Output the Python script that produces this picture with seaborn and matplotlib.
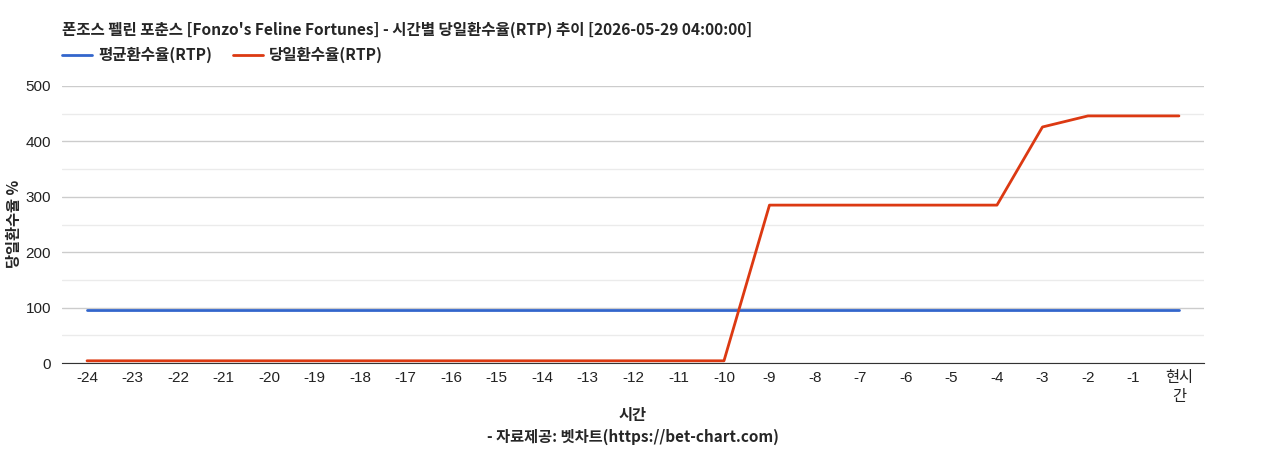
import numpy as np
import pandas as pd
import seaborn as sns
import matplotlib.pyplot as plt
from matplotlib.ticker import MultipleLocator

# chart data
hours = ['-24', '-23', '-22', '-21', '-20', '-19', '-18', '-17', '-16', '-15', '-14', '-13',
         '-12', '-11', '-10', '-9', '-8', '-7', '-6', '-5', '-4', '-3', '-2', '-1', '현시\n간']
avg_rtp = [96] * 25
daily_rtp = [4, 4, 4, 4, 4, 4, 4, 4, 4, 4, 4, 4, 4, 4, 4,
             285, 285, 285, 285, 285, 285, 426, 446, 446, 446]

title = "폰조스 펠린 포춘스 [Fonzo's Feline Fortunes] - 시간별 당일환수율(RTP) 추이 [2026-05-29 04:00:00]"
series_names = ['평균환수율(RTP)', '당일환수율(RTP)']
colors = ['#3366cc', '#dc3912']

df = pd.DataFrame({
    'x': list(range(len(hours))) * 2,
    'rtp': avg_rtp + daily_rtp,
    'series': [series_names[0]] * len(hours) + [series_names[1]] * len(hours),
})

sns.set_style('white')
plt.rcParams['font.family'] = ['Noto Sans CJK KR', 'DejaVu Sans']
tick_font = ['Liberation Sans', 'Noto Sans CJK KR']

fig = plt.figure(figsize=(12.68, 4.5), dpi=100)
ax = fig.add_axes([0.0489, 0.1933, 0.9006, 0.6156])

sns.lineplot(data=df, x='x', y='rtp', hue='series', palette=colors,
             linewidth=2, ax=ax, legend=False)

ax.set_xlim(-0.55, len(hours) - 0.45)
ax.set_ylim(0, 500)
ax.yaxis.set_major_locator(MultipleLocator(100))
ax.yaxis.set_minor_locator(MultipleLocator(50))
ax.grid(which='major', axis='y', color='#cccccc', linewidth=1)
ax.grid(which='minor', axis='y', color='#ebebeb', linewidth=1)
ax.set_axisbelow(True)
for s in ['top', 'right', 'left']:
    ax.spines[s].set_visible(False)
ax.spines['bottom'].set_color('#333333')
ax.set_xticks(range(len(hours)))
ax.set_xticklabels(hours, fontsize=11, color='#222222', linespacing=1.45, family=tick_font)
for lbl in ax.get_yticklabels():
    lbl.set_family(tick_font)
ax.tick_params(axis='y', labelsize=11, colors='#222222', length=0, pad=8)
ax.tick_params(axis='x', length=0, pad=6)
ax.tick_params(which='minor', length=0)

ax.set_xlabel('')
ax.set_ylabel('')
fig.text(14 / 1268, 1 - 224 / 450, '당일환수율 %', fontsize=11, fontweight='bold',
         rotation=90, ha='center', va='center')

fig.text(62 / 1268, 1 - 30 / 450, title, fontsize=11.2, fontweight='bold', va='center', ha='left')

# legend
for i, name in enumerate(series_names):
    x0 = [62, 233][i] / 1268
    fig.add_artist(plt.Line2D([x0, x0 + 30 / 1268], [1 - 55 / 450] * 2, color=colors[i], linewidth=2,
                              transform=fig.transFigure))
    fig.text(x0 + 36 / 1268, 1 - 55 / 450, name, fontsize=11.2, fontweight='bold', va='center', ha='left')

fig.text(633 / 1268, 1 - 415 / 450, '시간', fontsize=11, fontweight='bold', ha='center', va='center')
fig.text(633 / 1268, 1 - 437 / 450, '- 자료제공: 벳차트(https://bet-chart.com)', fontsize=11,
         fontweight='bold', ha='center', va='center')

fig.savefig('out.png', dpi=100)
